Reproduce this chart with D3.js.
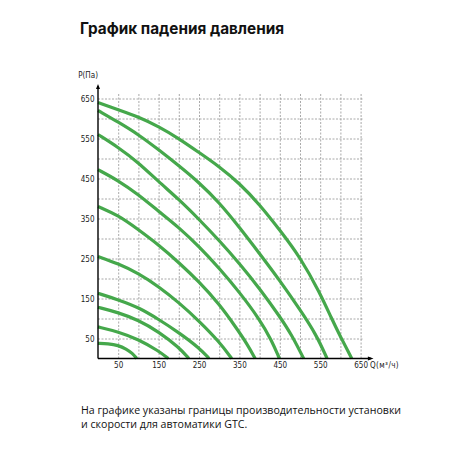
<!DOCTYPE html>
<html>
<head>
<meta charset="utf-8">
<script src="https://cdn.jsdelivr.net/npm/d3@7"></script>
<style>
  html, body { margin: 0; padding: 0; background: #fff; }
  svg { display: block; }
</style>
</head>
<body>
<svg id="chart" width="450" height="450"></svg>
<script>
const title = 'График падения давления';
const note = ['На графике указаны границы производительности установки', 'и скорости для автоматики GTC.'];
const yLabel = 'P(Па)';
const xLabel = 'Q(м³/ч)';

const tickLabels = [50, 150, 250, 350, 450, 550, 650];
const gridValues = [50, 100, 150, 200, 250, 300, 350, 400, 450, 500, 550, 600, 650];

// Q (м³/ч), P (Па), top curve first
const curve1 = [[0, 640], [50, 622], [100, 604], [150, 580], [200, 550], [250, 515], [300, 480], [350, 438], [400, 385], [450, 321], [500, 254], [550, 163], [578, 100], [600, 55], [628, 0]];
const curve2 = [[0, 620], [50, 591], [100, 560], [150, 522], [200, 482], [250, 440], [300, 390], [350, 328], [400, 262], [450, 195], [500, 122], [540, 60], [567, 0]];
const curve3 = [[0, 560], [50, 528], [100, 490], [150, 442], [200, 398], [250, 348], [300, 295], [350, 238], [400, 175], [450, 105], [480, 58], [509, 0]];
const curve4 = [[0, 472], [50, 445], [100, 410], [150, 368], [200, 328], [250, 280], [300, 226], [350, 166], [400, 98], [430, 45], [449, 0]];
const curve5 = [[0, 380], [50, 358], [100, 322], [150, 284], [200, 240], [250, 192], [300, 136], [340, 80], [370, 35], [389, 0]];
const curve6 = [[0, 255], [50, 237], [100, 213], [150, 180], [200, 140], [250, 94], [300, 42], [331, 0]];
const curve7 = [[0, 163], [50, 147], [100, 128], [150, 98], [200, 65], [250, 27], [275, 0]];
const curve8 = [[0, 128], [50, 115], [100, 96], [150, 67], [200, 28], [225, 0]];
const curve9 = [[0, 79], [50, 67], [100, 48], [150, 19], [174, 0]];
const curve10 = [[0, 38], [25, 37], [50, 33], [70, 24], [85, 13], [96, 0]];

const curves = [curve1, curve2, curve3, curve4, curve5, curve6, curve7, curve8, curve9, curve10];

const svg = d3.select('#chart');
const green = '#45a84b';
const axisFont = '"DejaVu Sans Condensed", "Liberation Sans Narrow", sans-serif';

const x = d3.scaleLinear([0, 650], [98, 360.6]);
const y = d3.scaleLinear([0, 650], [358.5, 98.5]);

/*
Title
*/
svg.append('text')
  .attr('x', 80)
  .attr('y', 33.5)
  .style('font-family', 'Inter, "Open Sans", sans-serif')
  .style('font-weight', 700)
  .style('font-size', '15.3px')
  .style('fill', '#111')
  .text(title);

/*
Grid
*/
svg.append('g')
  .attr('class', 'grid-x')
  .attr('transform', `translate(0,${y(0)})`)
  .call(d3.axisBottom(x).tickValues(gridValues).tickSize(-(y(0) - y(665))).tickFormat(''))
  .call(g => g.select('.domain').remove())
  .selectAll('line')
  .attr('stroke', '#939393')
  .attr('stroke-width', 0.8)
  .attr('stroke-dasharray', '2,1.5');

svg.append('g')
  .attr('class', 'grid-y')
  .attr('transform', `translate(${x(0)},0)`)
  .call(d3.axisLeft(y).tickValues(gridValues).tickSize(-(x(656) - x(0))).tickFormat(''))
  .call(g => g.select('.domain').remove())
  .selectAll('line')
  .attr('stroke', '#939393')
  .attr('stroke-width', 0.8)
  .attr('stroke-dasharray', '2,1.5');

/*
Curves, smoothed through the read points
*/
const line = d3.line()
  .curve(d3.curveBasis)
  .x(d => x(d[0]))
  .y(d => y(d[1]));

svg.append('g')
  .attr('class', 'curves')
  .selectAll('path')
  .data(curves)
  .join('path')
  .attr('d', line)
  .style('fill', 'none')
  .style('stroke', green)
  .style('stroke-width', 3.2);

/*
Axes with arrows
*/
svg.append('line')
  .attr('x1', x(0)).attr('y1', y(0))
  .attr('x2', x(0)).attr('y2', y(680))
  .style('stroke', '#000')
  .style('stroke-width', 1.4);

svg.append('line')
  .attr('x1', x(0)).attr('y1', y(0))
  .attr('x2', x(676)).attr('y2', y(0))
  .style('stroke', '#000')
  .style('stroke-width', 1.4);

svg.append('path')
  .attr('d', `M${x(0)},${y(686)} L${x(0) - 2},${y(674)} L${x(0) + 2},${y(674)} Z`)
  .style('fill', '#000');

svg.append('path')
  .attr('d', `M${x(682)},${y(0)} L${x(668)},${y(0) - 2} L${x(668)},${y(0) + 2} Z`)
  .style('fill', '#000');

svg.append('g')
  .attr('class', 'axis-bottom')
  .attr('transform', `translate(0,${y(0)})`)
  .call(d3.axisBottom(x).tickValues(tickLabels).tickSize(0).tickPadding(3.5))
  .call(g => g.select('.domain').remove())
  .selectAll('text')
  .style('font-family', axisFont)
  .style('font-size', '8px')
  .style('fill', '#222');

svg.append('g')
  .attr('class', 'axis-left')
  .attr('transform', `translate(${x(0)},0)`)
  .call(d3.axisLeft(y).tickValues(tickLabels).tickSize(0).tickPadding(3.5))
  .call(g => g.select('.domain').remove())
  .selectAll('text')
  .style('font-family', axisFont)
  .style('font-size', '8px')
  .style('fill', '#222');

svg.append('text')
  .attr('x', x(0))
  .attr('y', 78)
  .attr('text-anchor', 'end')
  .style('font-family', axisFont)
  .style('font-size', '8px')
  .style('fill', '#222')
  .text(yLabel);

svg.append('text')
  .attr('x', 370)
  .attr('y', 368)
  .style('font-family', axisFont)
  .style('font-size', '8px')
  .style('letter-spacing', '0.4px')
  .style('fill', '#222')
  .text(xLabel);

/*
Note under the chart
*/
svg.append('g')
  .attr('class', 'note')
  .selectAll('text')
  .data(note)
  .join('text')
  .attr('x', 81)
  .attr('y', (d, i) => 413.5 + i * 14)
  .style('font-family', '"Open Sans", "Noto Sans", sans-serif')
  .style('font-size', '10.6px')
  .style('fill', '#111')
  .text(d => d);
</script>
</body>
</html>
